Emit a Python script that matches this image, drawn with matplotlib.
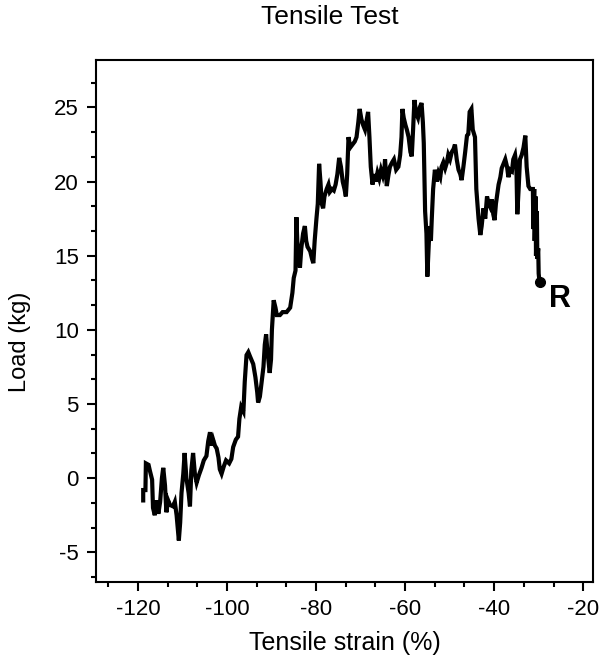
import matplotlib
matplotlib.use("Agg")
import matplotlib.pyplot as plt
from matplotlib.ticker import MultipleLocator

plt.rcParams['font.family'] = ['Liberation Sans', 'DejaVu Sans']
plt.rcParams['axes.unicode_minus'] = False

# strain (%) and load (kg)
strain = [
    -118.8, -118.8, -118.3, -118.2, -117.6, -117.3, -116.8, -116.6, -116.2, -115.8,
    -115.4, -115.0, -114.6, -114.3, -113.9, -113.6, -113.2, -112.8, -112.1, -111.7,
    -111.3, -111.0, -110.8, -110.5, -110.2, -109.8, -109.5, -109.1, -108.6, -108.3,
    -108.0, -107.6, -107.2, -106.8, -106.3, -105.7, -105.2, -104.6, -104.2, -103.8,
    -103.4, -103.1, -102.7, -102.3, -101.9, -101.6, -101.2, -100.7, -100.2, -99.5,
    -99.0, -98.6, -98.0, -97.5, -97.2, -96.8, -96.3, -96.0, -95.6, -95.2,
    -94.8, -94.1, -93.6, -93.2, -93.0, -92.6, -92.2, -91.8, -91.5, -91.2,
    -90.9, -90.7, -90.4, -90.1, -89.9, -89.5, -89.1, -88.8, -88.1, -87.5,
    -86.6, -85.8, -85.3, -85.0, -84.6, -84.4, -84.2, -83.9, -83.6, -83.3,
    -82.9, -82.5, -82.2, -81.9, -81.3, -80.9, -80.6, -80.3, -79.9, -79.6,
    -79.3, -79.0, -78.7, -78.4, -78.1, -77.6, -77.2, -76.9, -76.4, -76.0,
    -75.6, -75.2, -74.8, -74.4, -74.0, -73.6, -73.3, -73.0, -72.7, -72.3,
    -71.8, -71.3, -70.9, -70.5, -70.2, -69.8, -69.4, -69.0, -68.6, -68.3,
    -68.0, -67.7, -67.3, -67.0, -66.6, -66.2, -65.8, -65.4, -65.0, -64.6,
    -64.5, -64.1, -63.7, -63.4, -62.9, -62.5, -62.0, -61.5, -61.1, -60.8,
    -60.6, -60.3, -59.9, -59.6, -59.2, -58.8, -58.5, -58.2, -57.9, -57.5,
    -57.1, -56.7, -56.3, -56.0, -55.8, -55.5, -55.2, -55.0, -54.8, -54.5,
    -54.2, -54.0, -53.7, -53.3, -52.9, -52.5, -52.1, -51.8, -51.4, -51.0,
    -50.6, -50.3, -49.9, -49.5, -49.1, -48.8, -48.4, -48.0, -47.6, -47.3,
    -46.9, -46.5, -46.1, -45.8, -45.5, -45.1, -44.8, -44.3, -44.0, -43.5,
    -43.1, -42.8, -42.4, -42.0, -41.6, -41.2, -40.9, -40.5, -40.2, -39.9,
    -39.6, -39.0, -38.6, -38.3, -37.9, -37.5, -37.1, -36.8, -36.4, -36.0,
    -35.7, -35.3, -35.0, -34.8, -34.5, -34.2, -33.8, -33.4, -33.0, -32.7,
    -32.3, -31.9, -31.5, -31.3, -31.2, -31.0, -30.9, -30.7, -30.6, -30.4,
    -30.3, -30.1, -30.0, -29.8,
]
load = [
    -1.5, -0.8, -0.8, 1.0, 0.9, 0.5, -0.1, -2.0, -2.5, -1.5,
    -2.4, -1.6, 0.0, 0.7, -0.5, -2.3, -1.5, -1.8, -1.9, -1.6,
    -2.5, -3.5, -4.2, -3.0, -1.0, 0.3, 1.7, 0.0, -1.0, -1.9,
    0.5, 1.7, 0.3, -0.3, 0.2, 0.7, 1.2, 1.5, 2.5, 3.1,
    2.2, 2.6, 2.2, 2.0, 1.4, 0.6, 0.3, 0.8, 1.2, 1.0,
    1.3, 2.1, 2.6, 2.8, 4.0, 4.8, 4.5, 6.5, 8.3, 8.5,
    8.2, 7.7, 6.8, 5.8, 5.1, 5.5, 6.5, 7.5, 9.0, 9.7,
    8.5, 8.0, 7.1, 8.0, 10.0, 12.0, 11.5, 11.0, 11.0, 11.2,
    11.2, 11.5, 12.5, 13.5, 14.0, 17.6, 16.0, 15.0, 14.2, 15.5,
    16.5, 17.0, 16.0, 15.6, 15.3, 14.8, 14.5, 16.0, 17.5, 18.5,
    21.2, 20.0, 18.5, 18.2, 19.0, 19.5, 19.8, 19.3, 19.5, 19.4,
    19.8, 20.5, 21.6, 21.0, 20.0, 19.5, 19.0, 20.5, 23.0, 22.3,
    22.5, 22.7, 23.0, 24.0, 24.9, 24.2, 23.8, 23.5, 24.2, 24.7,
    23.0, 21.0, 19.8, 20.5, 20.0, 20.6, 20.2, 20.8, 20.4, 21.0,
    21.5, 19.7, 20.5, 21.0, 21.3, 21.5, 20.8, 21.0, 21.8, 23.0,
    24.9, 24.3, 23.8, 23.5, 23.0, 22.0, 21.7, 23.5, 25.5, 24.6,
    24.3, 25.0, 25.3, 24.0, 22.6, 18.0, 16.5, 13.6, 15.0, 17.0,
    16.0, 17.5, 19.5, 20.8, 20.0, 20.6, 20.3, 21.0, 21.3, 20.9,
    21.3, 21.8, 21.5, 22.0, 22.2, 22.5, 21.5, 20.8, 20.5, 20.1,
    21.0, 22.0, 23.1, 23.2, 24.7, 24.9, 23.5, 23.0, 19.5, 17.5,
    16.4, 17.0, 18.2, 17.5, 19.0, 18.5, 18.3, 18.8, 17.8, 17.4,
    18.5, 19.8, 20.3, 20.9, 21.2, 21.5, 21.0, 20.3, 20.8, 20.7,
    21.5, 21.8, 21.0, 17.8, 19.5, 21.5, 21.8, 22.3, 23.1, 21.0,
    19.7, 19.5, 19.5, 19.5, 16.8, 19.5, 16.0, 19.0, 15.0, 18.0,
    14.8, 15.5, 13.8, 13.2,
]

fig = plt.figure(figsize=(6, 6.66), dpi=100)
ax = fig.add_axes([96 / 600, 1 - 582 / 666, (593 - 96) / 600, (582 - 60) / 666])

ax.plot(strain, load, color='black', lw=3, solid_joinstyle='miter')
ax.plot(strain[-1], load[-1], 'o', color='black', ms=7)
ax.text(strain[-1] + 2.2, load[-1] - 1.1, 'R', fontsize=22, fontweight='bold', va='center', ha='left')

ax.set_xlim(-129.4, -17.8)
ax.set_ylim(-7.0, 28.2)
ax.xaxis.set_major_locator(MultipleLocator(20))
ax.xaxis.set_minor_locator(MultipleLocator(20 / 3))
ax.yaxis.set_major_locator(MultipleLocator(5))
ax.yaxis.set_minor_locator(MultipleLocator(5 / 3))
ax.tick_params(which='major', direction='out', length=6.5, width=1.5, labelsize=16, pad=6)
ax.tick_params(which='minor', direction='out', length=3.5, width=1.5)
for s in ax.spines.values():
    s.set_linewidth(1.5)

ax.set_xlabel('Tensile strain (%)', fontsize=18, labelpad=8)
ax.set_ylabel('Load (kg)', fontsize=17)
ax.yaxis.set_label_coords(-0.13, 0.46)
fig.text(0.55, 0.993, 'Tensile Test', fontsize=19, ha='center', va='top')

fig.savefig('out.png', dpi=100)
